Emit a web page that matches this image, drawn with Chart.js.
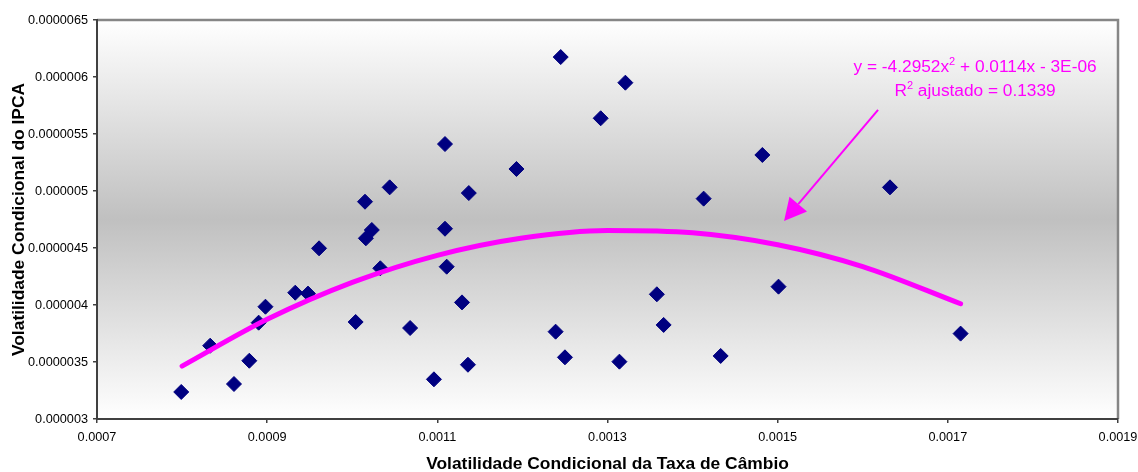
<!DOCTYPE html>
<html>
<head>
<meta charset="utf-8">
<script src="https://cdn.jsdelivr.net/npm/chart.js@4/dist/chart.umd.min.js"></script>
<style>
  html, body { margin: 0; padding: 0; background: #fff; }
  #grafico { display: block; }
</style>
</head>
<body>
<canvas id="grafico" width="1138" height="472"></canvas>
<script>
// volatilidade condicional: cambio (x) vs IPCA (y)
const volCambio = [
  0.000799, 0.000833, 0.000861, 0.000879, 0.000890, 0.000898, 0.000933, 0.000948,
  0.000961, 0.001004, 0.001016, 0.001023, 0.001015, 0.001044, 0.001033, 0.001068,
  0.001096, 0.001109, 0.001109, 0.001111, 0.001129, 0.001136, 0.001137, 0.001193,
  0.001239, 0.001245, 0.001250, 0.001292, 0.001314, 0.001321, 0.001358, 0.001366,
  0.001413, 0.001433, 0.001482, 0.001501, 0.001632, 0.001715
];
const volIPCA = [
  3.237e-6, 3.643e-6, 3.307e-6, 3.511e-6, 3.845e-6, 3.985e-6, 4.108e-6, 4.100e-6,
  4.497e-6, 3.851e-6, 4.585e-6, 4.658e-6, 4.906e-6, 5.032e-6, 4.322e-6, 3.798e-6,
  3.348e-6, 5.412e-6, 4.669e-6, 4.336e-6, 4.023e-6, 3.476e-6, 4.982e-6, 5.193e-6,
  3.766e-6, 6.175e-6, 3.541e-6, 5.638e-6, 3.503e-6, 5.950e-6, 4.094e-6, 3.825e-6,
  4.933e-6, 3.553e-6, 5.316e-6, 4.161e-6, 5.032e-6, 3.749e-6
];

// linha de tendencia polinomial
const tendX = [0.0008, 0.0009, 0.0010, 0.0011, 0.0012, 0.0013, 0.0014, 0.0015, 0.0016, 0.001715];
const tendY = [3.464e-6, 3.874e-6, 4.198e-6, 4.436e-6, 4.588e-6, 4.654e-6, 4.634e-6, 4.529e-6, 4.337e-6, 4.011e-6];

const xTicks = [0.0007, 0.0009, 0.0011, 0.0013, 0.0015, 0.0017, 0.0019];
const xTickLabels = ['0.0007', '0.0009', '0.0011', '0.0013', '0.0015', '0.0017', '0.0019'];
const yTicks = [0.000003, 0.0000035, 0.000004, 0.0000045, 0.000005, 0.0000055, 0.000006, 0.0000065];
const yTickLabels = ['0.000003', '0.0000035', '0.000004', '0.0000045', '0.000005', '0.0000055', '0.000006', '0.0000065'];

const equacao = ['y = -4.2952x', '2', ' + 0.0114x - 3E-06'];
const r2Texto = ['R', '2', ' ajustado = 0.1339'];

const FONTE = "Arial, 'Liberation Sans', sans-serif";
const MAGENTA = '#ff00ff';

const fundo = {
  id: 'fundo',
  beforeDraw(chart) {
    const { ctx, chartArea: a } = chart;
    const g = ctx.createLinearGradient(0, a.top, 0, a.bottom);
    g.addColorStop(0, '#ffffff');
    g.addColorStop(0.5, '#c0c0c0');
    g.addColorStop(1, '#ffffff');
    ctx.save();
    ctx.fillStyle = g;
    ctx.fillRect(a.left, a.top, a.right - a.left, a.bottom - a.top);
    ctx.strokeStyle = '#868686';
    ctx.lineWidth = 2.5;
    ctx.beginPath();
    ctx.moveTo(a.left, a.top);
    ctx.lineTo(a.right, a.top);
    ctx.lineTo(a.right, a.bottom);
    ctx.stroke();
    ctx.restore();
  }
};

// texto com expoente + seta
function textoSobrescrito(ctx, partes, cx, base) {
  const fN = '17.3px ' + FONTE, fS = '11px ' + FONTE;
  ctx.font = fN; const w0 = ctx.measureText(partes[0]).width;
  const w2 = ctx.measureText(partes[2]).width;
  ctx.font = fS; const w1 = ctx.measureText(partes[1]).width;
  let x = cx - (w0 + w1 + w2) / 2;
  ctx.textAlign = 'left';
  ctx.textBaseline = 'alphabetic';
  ctx.font = fN; ctx.fillText(partes[0], x, base); x += w0;
  ctx.font = fS; ctx.fillText(partes[1], x, base - 7); x += w1;
  ctx.font = fN; ctx.fillText(partes[2], x, base);
}

const anotacao = {
  id: 'anotacao',
  afterDatasetsDraw(chart) {
    const { ctx, scales: { x, y } } = chart;
    ctx.save();
    ctx.fillStyle = MAGENTA;
    ctx.strokeStyle = MAGENTA;
    const cx = x.getPixelForValue(0.001732);
    textoSobrescrito(ctx, equacao, cx, y.getPixelForValue(6.04e-6));
    textoSobrescrito(ctx, r2Texto, cx, y.getPixelForValue(5.83e-6));

    const x0 = x.getPixelForValue(0.001618), y0 = y.getPixelForValue(5.711e-6);
    const x1 = x.getPixelForValue(0.0015075), y1 = y.getPixelForValue(4.737e-6);
    const ang = Math.atan2(y1 - y0, x1 - x0);
    const comp = 22, larg = 11.5;
    const bx = x1 - comp * Math.cos(ang), by = y1 - comp * Math.sin(ang);
    ctx.lineWidth = 2;
    ctx.beginPath();
    ctx.moveTo(x0, y0);
    ctx.lineTo(bx, by);
    ctx.stroke();
    ctx.beginPath();
    ctx.moveTo(x1, y1);
    ctx.lineTo(bx + larg * Math.sin(ang), by - larg * Math.cos(ang));
    ctx.lineTo(bx - larg * Math.sin(ang), by + larg * Math.cos(ang));
    ctx.closePath();
    ctx.fill();
    ctx.restore();
  }
};

const ctx = document.getElementById('grafico').getContext('2d');
new Chart(ctx, {
  type: 'scatter',
  data: {
    datasets: [
      {
        label: 'Tendência',
        type: 'line',
        data: tendX.map((v, i) => ({ x: v, y: tendY[i] })),
        borderColor: MAGENTA,
        borderWidth: 5,
        borderCapStyle: 'round',
        pointRadius: 0,
        cubicInterpolationMode: 'monotone',
        fill: false,
        order: 1
      },
      {
        label: 'Observações',
        data: volCambio.map((v, i) => ({ x: v, y: volIPCA[i] })),
        pointStyle: 'rectRot',
        pointRadius: 7.5,
        pointBackgroundColor: '#000080',
        pointBorderColor: '#000080',
        pointBorderWidth: 1,
        order: 2
      }
    ]
  },
  options: {
    responsive: false,
    animation: false,
    layout: { padding: { top: 20, right: 20, left: 0, bottom: 0 } },
    plugins: {
      legend: { display: false },
      tooltip: { enabled: false }
    },
    scales: {
      x: {
        type: 'linear',
        min: 0.0007,
        max: 0.0019,
        afterBuildTicks: s => { s.ticks = xTicks.map(v => ({ value: v })); },
        afterFit: s => { s.height = 53; s.paddingLeft = 0; s.paddingRight = 0; },
        grid: { drawOnChartArea: false, tickLength: 4, color: '#404040', lineWidth: 1.5 },
        border: { color: '#404040', width: 2 },
        ticks: {
          color: '#000',
          font: { family: FONTE, size: 12.7 },
          padding: 7,
          maxRotation: 0,
          autoSkip: false,
          callback: (v, i) => xTickLabels[i]
        },
        title: {
          display: true,
          text: 'Volatilidade Condicional da Taxa de Câmbio',
          color: '#000',
          font: { family: FONTE, size: 17.4, weight: 'bold', lineHeight: 1 },
          padding: { top: 0, bottom: -1 }
        }
      },
      y: {
        type: 'linear',
        min: 0.000003,
        max: 0.0000065,
        afterBuildTicks: s => { s.ticks = yTicks.map(v => ({ value: v })); },
        afterFit: s => { s.width = 97; s.paddingTop = 0; s.paddingBottom = 0; },
        grid: { drawOnChartArea: false, tickLength: 4, color: '#404040', lineWidth: 1.5 },
        border: { color: '#404040', width: 2 },
        ticks: {
          color: '#000',
          font: { family: FONTE, size: 12.7 },
          padding: 5,
          autoSkip: false,
          callback: (v, i) => yTickLabels[i]
        },
        title: {
          display: true,
          text: 'Volatilidade Condicional do IPCA',
          color: '#000',
          font: { family: FONTE, size: 17.4, weight: 'bold', lineHeight: 1 },
          padding: { top: 11, bottom: 0 }
        }
      }
    }
  },
  plugins: [fundo, anotacao]
});
</script>
</body>
</html>
